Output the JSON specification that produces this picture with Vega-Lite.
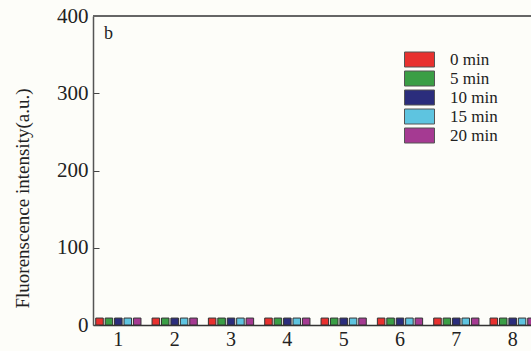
{
  "$schema": "https://vega.github.io/schema/vega-lite/v6.json",
  "autosize": "none",
  "width": 438,
  "height": 309,
  "padding": {"left": 93, "top": 16, "right": 0, "bottom": 26},
  "background": "#fdfdf9",
  "config": {
    "view": {"stroke": null},
    "font": "Liberation Serif"
  },
  "title": {
    "text": "b",
    "anchor": "start",
    "frame": "group",
    "orient": "top",
    "dx": 11,
    "offset": -38,
    "fontSize": 18,
    "fontWeight": "normal",
    "font": "Liberation Serif",
    "color": "#222"
  },
  "data": {
    "values": [
      {"group": "1", "time": "0 min", "value": 9}, {"group": "1", "time": "5 min", "value": 9}, {"group": "1", "time": "10 min", "value": 9}, {"group": "1", "time": "15 min", "value": 9}, {"group": "1", "time": "20 min", "value": 9},
      {"group": "2", "time": "0 min", "value": 9}, {"group": "2", "time": "5 min", "value": 9}, {"group": "2", "time": "10 min", "value": 9}, {"group": "2", "time": "15 min", "value": 9}, {"group": "2", "time": "20 min", "value": 9},
      {"group": "3", "time": "0 min", "value": 9}, {"group": "3", "time": "5 min", "value": 9}, {"group": "3", "time": "10 min", "value": 9}, {"group": "3", "time": "15 min", "value": 9}, {"group": "3", "time": "20 min", "value": 9},
      {"group": "4", "time": "0 min", "value": 9}, {"group": "4", "time": "5 min", "value": 9}, {"group": "4", "time": "10 min", "value": 9}, {"group": "4", "time": "15 min", "value": 9}, {"group": "4", "time": "20 min", "value": 9},
      {"group": "5", "time": "0 min", "value": 9}, {"group": "5", "time": "5 min", "value": 9}, {"group": "5", "time": "10 min", "value": 9}, {"group": "5", "time": "15 min", "value": 9}, {"group": "5", "time": "20 min", "value": 9},
      {"group": "6", "time": "0 min", "value": 9}, {"group": "6", "time": "5 min", "value": 9}, {"group": "6", "time": "10 min", "value": 9}, {"group": "6", "time": "15 min", "value": 9}, {"group": "6", "time": "20 min", "value": 9},
      {"group": "7", "time": "0 min", "value": 9}, {"group": "7", "time": "5 min", "value": 9}, {"group": "7", "time": "10 min", "value": 9}, {"group": "7", "time": "15 min", "value": 9}, {"group": "7", "time": "20 min", "value": 9},
      {"group": "8", "time": "0 min", "value": 9}, {"group": "8", "time": "5 min", "value": 9}, {"group": "8", "time": "10 min", "value": 9}, {"group": "8", "time": "15 min", "value": 9}, {"group": "8", "time": "20 min", "value": 9}
    ]
  },
  "layer": [
    {
      "mark": {"type": "bar", "stroke": "#333", "strokeWidth": 1, "clip": true},
      "encoding": {
        "x": {
          "field": "group",
          "type": "nominal",
          "sort": ["1", "2", "3", "4", "5", "6", "7", "8"],
          "scale": {"range": [0, 445], "paddingInner": 0.18, "paddingOuter": 0.04},
          "axis": {
            "title": null,
            "labelAngle": 0,
            "labelFontSize": 20,
            "labelFont": "Liberation Serif",
            "labelColor": "#222",
            "labelPadding": 4,
            "ticks": false,
            "domainColor": "#333",
            "domainWidth": 1.5
          }
        },
        "xOffset": {
          "field": "time",
          "type": "nominal",
          "sort": ["0 min", "5 min", "10 min", "15 min", "20 min"],
          "scale": {"paddingInner": 0.2, "paddingOuter": 0.05}
        },
        "y": {
          "field": "value",
          "type": "quantitative",
          "scale": {"domain": [0, 400], "nice": false},
          "axis": {
            "title": "Fluorenscence  intensity(a.u.)",
            "titleFont": "Liberation Serif",
            "titleFontSize": 19,
            "titleFontWeight": "normal",
            "titleColor": "#222",
            "titleAngle": -90,
            "titleX": -71,
            "titleY": 182,
            "titleAlign": "center",
            "titleBaseline": "middle",
            "values": [0, 100, 200, 300, 400],
            "grid": false,
            "tickSize": -6,
            "tickColor": "#444",
            "labelPadding": 11,
            "labelFontSize": 21,
            "labelFont": "Liberation Serif",
            "labelColor": "#222",
            "domainColor": "#555",
            "domainWidth": 1.5
          }
        },
        "color": {
          "field": "time",
          "type": "nominal",
          "sort": ["0 min", "5 min", "10 min", "15 min", "20 min"],
          "scale": {
            "domain": ["0 min", "5 min", "10 min", "15 min", "20 min"],
            "range": ["#e8312f", "#3a9e45", "#2b2d7c", "#5ec4e0", "#a53a92"]
          },
          "legend": {
            "title": null,
            "orient": "none",
            "legendX": 318,
            "legendY": 35,
            "symbolType": "M-2,-1H2V1H-2Z",
            "symbolSize": 225,
            "symbolStrokeColor": "#555",
            "symbolStrokeWidth": 1,
            "symbolOpacity": 1,
            "labelFont": "Liberation Serif",
            "labelFontSize": 17,
            "labelColor": "#222",
            "labelOffset": 22,
            "rowPadding": 0
          }
        }
      }
    },
    {
      "mark": {"type": "rule", "color": "#666", "strokeWidth": 2},
      "encoding": {"y": {"datum": 400}}
    }
  ]
}
